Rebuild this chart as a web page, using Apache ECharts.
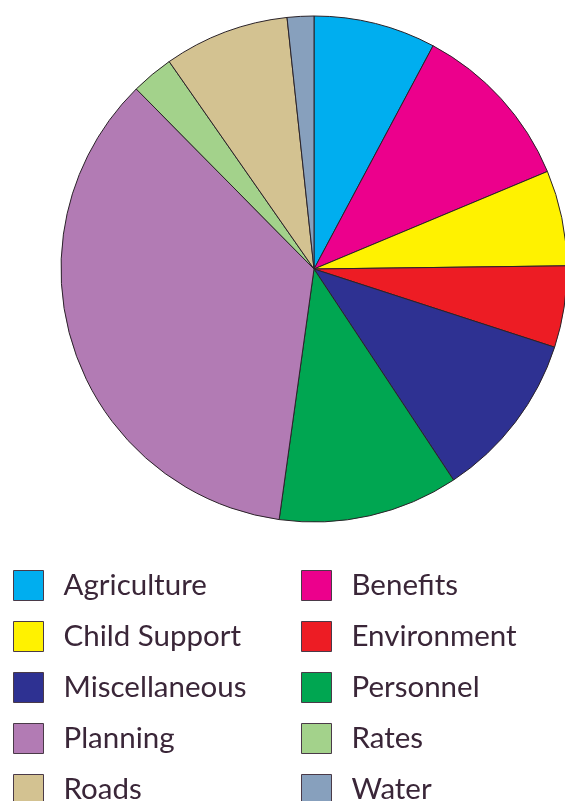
<!DOCTYPE html>
<html>
<head>
<meta charset="utf-8">
<script src="https://cdn.jsdelivr.net/npm/echarts@6/dist/echarts.min.js"></script>
<style>
  html, body { margin: 0; padding: 0; background: #fff; }
  #main { width: 565px; height: 801px; }
</style>
</head>
<body>
<div id="main"></div>
<script>
// categories and shares (%), clockwise from 12 o'clock
var categories = ['Agriculture', 'Benefits', 'Child Support', 'Environment', 'Miscellaneous',
                  'Personnel', 'Planning', 'Rates', 'Roads', 'Water'];
var values = [7.8, 10.9, 6.1, 5.2, 10.7, 11.5, 35.4, 2.7, 8.0, 1.7];
var colors = ['#00aeef', '#ec008c', '#fff200', '#ed1c24', '#2e3192',
              '#00a651', '#b27bb4', '#a3d28b', '#d3c291', '#87a0bd'];
var leftLegend = ['Agriculture', 'Child Support', 'Miscellaneous', 'Planning', 'Roads'];
var rightLegend = ['Benefits', 'Environment', 'Personnel', 'Rates', 'Water'];

var myChart = echarts.init(document.getElementById('main'));

var legendBase = {
  orient: 'vertical',
  top: 570,
  height: 240,
  padding: 0,
  itemWidth: 30,
  itemHeight: 30,
  itemGap: 20,
  icon: 'rect',
  selectedMode: false,
  itemStyle: { borderColor: '#4a3a48', borderWidth: 1 },
  textStyle: { fontFamily: 'Lato', fontSize: 29.5, color: '#3a2638', padding: [16, 0, 0, 15] }
};

myChart.setOption({
  animation: false,
  color: colors,
  legend: [
    Object.assign({}, legendBase, { left: 13, data: leftLegend }),
    Object.assign({}, legendBase, { left: 301, data: rightLegend })
  ],
  series: [{
    type: 'pie',
    center: [314, 269],
    radius: 253,
    startAngle: 90,
    clockwise: true,
    label: { show: false },
    labelLine: { show: false },
    emphasis: { disabled: true },
    itemStyle: { borderColor: '#2a2228', borderWidth: 1 },
    data: categories.map(function (c, i) { return { name: c, value: values[i] }; })
  }]
});
</script>
</body>
</html>
